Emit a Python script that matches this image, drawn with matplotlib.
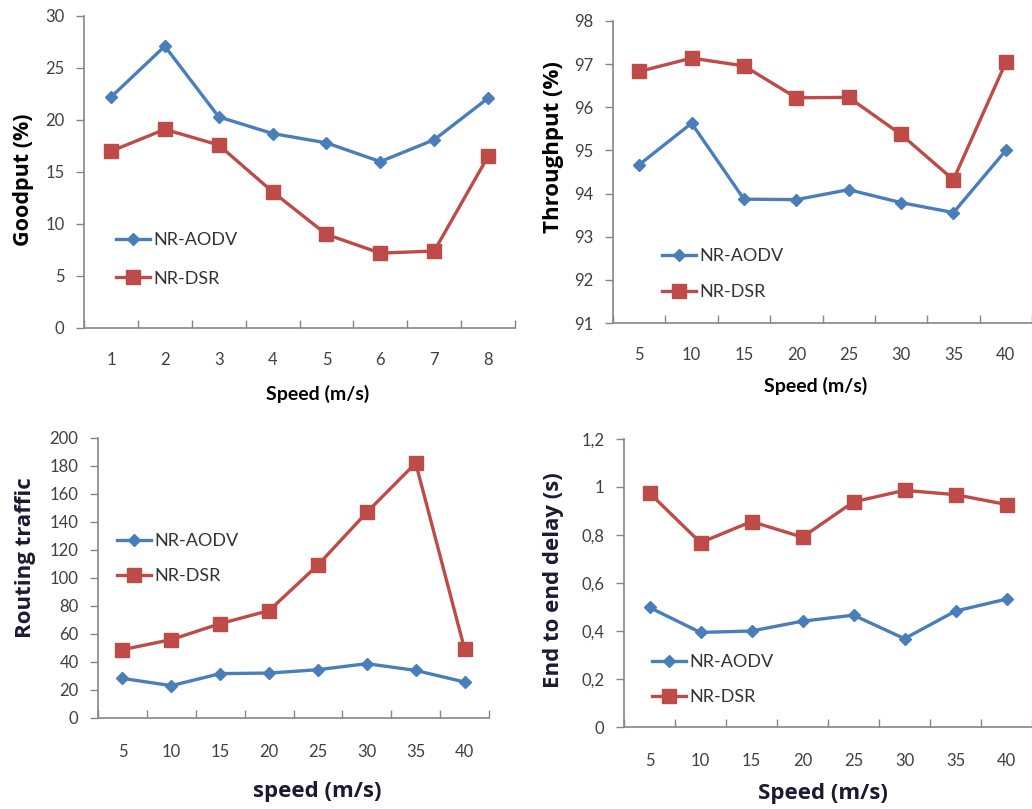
import matplotlib
matplotlib.use("Agg")
import matplotlib.pyplot as plt
from matplotlib.lines import Line2D

plt.rcParams['font.family'] = ['Lato', 'DejaVu Sans']

# ---- data ----
goodput_x = ["1", "2", "3", "4", "5", "6", "7", "8"]
goodput_aodv = [22.2, 27.1, 20.3, 18.7, 17.8, 16.0, 18.1, 22.1]
goodput_dsr = [17.0, 19.1, 17.6, 13.1, 9.0, 7.2, 7.4, 16.5]

speeds = ["5", "10", "15", "20", "25", "30", "35", "40"]
throughput_aodv = [94.67, 95.63, 93.87, 93.86, 94.09, 93.79, 93.56, 95.0]
throughput_dsr = [96.83, 97.14, 96.96, 96.22, 96.23, 95.37, 94.32, 97.04]

routing_aodv = [28.3, 23.1, 31.7, 32.1, 34.5, 38.8, 34.0, 25.7]
routing_dsr = [48.8, 56.0, 67.4, 76.7, 109.3, 146.9, 182.1, 49.3]

delay_aodv = [0.498, 0.394, 0.400, 0.441, 0.466, 0.368, 0.483, 0.533]
delay_dsr = [0.975, 0.768, 0.856, 0.791, 0.938, 0.986, 0.968, 0.927]

goodput_ticks = [0, 5, 10, 15, 20, 25, 30]
throughput_ticks = [91, 92, 93, 94, 95, 96, 97, 98]
routing_ticks = [0, 20, 40, 60, 80, 100, 120, 140, 160, 180, 200]
delay_ticks = [0, 0.2, 0.4, 0.6, 0.8, 1.0, 1.2]
delay_tick_labels = ["0", "0,2", "0,4", "0,6", "0,8", "1", "1,2"]

series_names = ["NR-AODV", "NR-DSR"]

BLUE = "#4a7ebb"
RED = "#be4b48"
AXIS = "#868686"
TICKTXT = "#404040"
DARK = "#1a1a33"
WIDE = ['Open Sans', 'DejaVu Sans']

W, H = 1032, 809
fig = plt.figure(figsize=(W / 100, H / 100), dpi=100)


def px_axes(left, top, right, bottom):
    return fig.add_axes([left / W, 1 - bottom / H, (right - left) / W, (bottom - top) / H])


def fx(x):
    return x / W


def fy(y):
    return 1 - y / H


def panel(box, cats, aodv, dsr, yticks, ylim, ylabels=None, tick_fs=12, xpad=17):
    ax = px_axes(*box)
    n = len(cats)
    xs = list(range(1, n + 1))
    ax.plot(xs, aodv, color=BLUE, lw=2.4, marker="D", ms=6.5, mfc=BLUE, mec=BLUE)
    ax.plot(xs, dsr, color=RED, lw=2.4, marker="s", ms=10, mfc=RED, mec=RED)
    ax.set_xlim(0.5, n + 0.5)
    ax.set_ylim(*ylim)
    ax.set_xticks(xs)
    ax.set_xticklabels(cats, fontsize=tick_fs, color=TICKTXT)
    ax.set_xticks([i + 0.5 for i in range(0, n + 1)], minor=True)
    ax.tick_params(axis="x", which="major", length=0, pad=xpad)
    ax.tick_params(axis="x", which="minor", length=6, direction="in", color=AXIS, width=1)
    ax.set_yticks(yticks)
    if ylabels is not None:
        ax.set_yticklabels(ylabels)
    ax.tick_params(axis="y", length=6, direction="out", color=AXIS, width=1,
                   labelsize=tick_fs, labelcolor=TICKTXT, pad=8)
    for s in ("top", "right"):
        ax.spines[s].set_visible(False)
    for s in ("left", "bottom"):
        ax.spines[s].set_color(AXIS)
        ax.spines[s].set_linewidth(1.2)
    ax.set_facecolor("white")
    return ax


def legend(ax, x, y, spacing, fs=13):
    handles = [Line2D([], [], color=BLUE, lw=2.4, marker="D", ms=6.5),
               Line2D([], [], color=RED, lw=2.4, marker="s", ms=10)]
    ax.legend(handles, series_names, loc="upper left",
              bbox_to_anchor=(fx(x), fy(y)), bbox_transform=fig.transFigure,
              frameon=False, fontsize=fs, handlelength=1.9, handletextpad=0.15,
              labelspacing=spacing, borderpad=0, borderaxespad=0,
              labelcolor="#333333")


# Goodput
ax1 = panel((84, 16, 515, 328), goodput_x, goodput_aodv, goodput_dsr,
            goodput_ticks, (0, 30))
legend(ax1, 116, 232, 1.25)
fig.text(fx(24), fy(180), "Goodput (%)", rotation=90, ha="center", va="center",
         fontsize=15.5, fontweight="bold", color="black", family=WIDE)
fig.text(fx(318), fy(394), "Speed (m/s)", ha="center", va="center",
         fontsize=14, fontweight="bold", color="black")

# Throughput
ax2 = panel((613, 21, 1032, 323), speeds, throughput_aodv, throughput_dsr,
            throughput_ticks, (91, 98))
legend(ax2, 662, 248, 1.1)
fig.text(fx(553), fy(147), "Throughput (%)", rotation=90, ha="center", va="center",
         fontsize=16, fontweight="bold", color="black", family=WIDE)
fig.text(fx(816), fy(386), "Speed (m/s)", ha="center", va="center",
         fontsize=14, fontweight="bold", color="black")

# Routing traffic
ax3 = panel((98, 438, 489, 718), speeds, routing_aodv, routing_dsr,
            routing_ticks, (0, 200), xpad=19)
legend(ax3, 117, 533, 1.05)
fig.text(fx(26), fy(558), "Routing traffic", rotation=90, ha="center", va="center",
         fontsize=16, fontweight="bold", color=DARK, family=WIDE)
fig.text(fx(317), fy(792), "speed (m/s)", ha="center", va="center",
         fontsize=16, fontweight="bold", color=DARK, family=WIDE)

# End to end delay
ax4 = panel((624, 439, 1032, 727), speeds, delay_aodv, delay_dsr,
            delay_ticks, (0, 1.2), ylabels=delay_tick_labels, xpad=19)
legend(ax4, 652, 654, 1.05)
fig.text(fx(553), fy(580), "End to end delay (s)", rotation=90, ha="center", va="center",
         fontsize=16, fontweight="bold", color=DARK, family=WIDE)
fig.text(fx(823), fy(793), "Speed (m/s)", ha="center", va="center",
         fontsize=16, fontweight="bold", color=DARK, family=WIDE)

fig.savefig("out.png", dpi=100, facecolor="white")
